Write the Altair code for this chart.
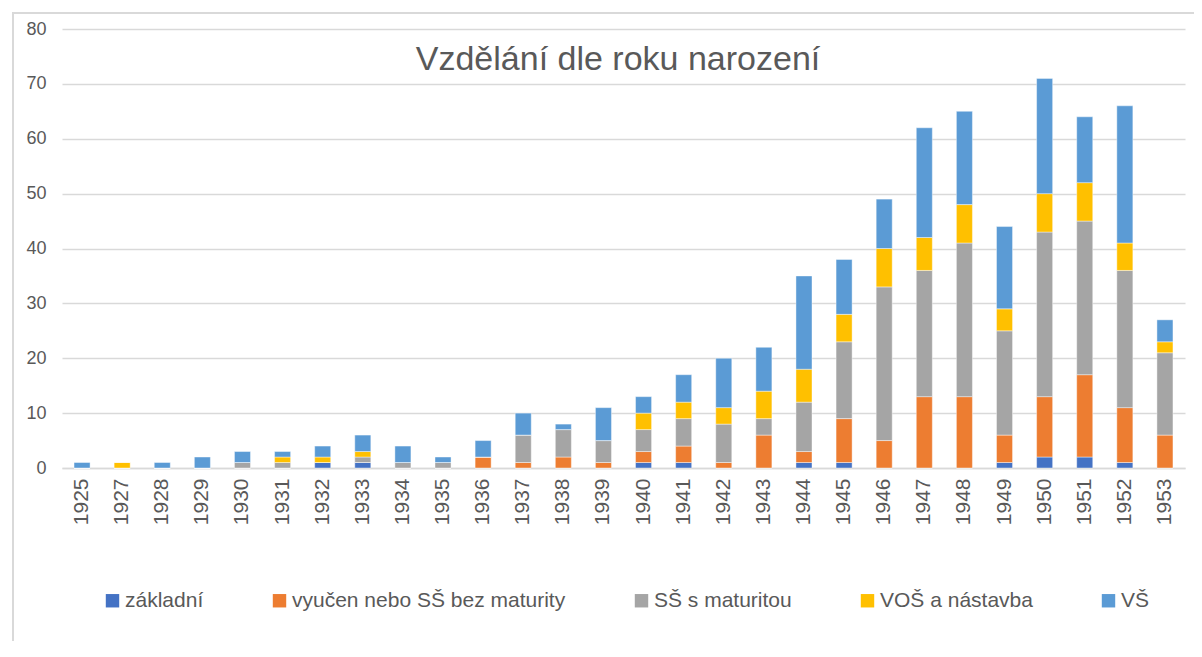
import altair as alt
import pandas as pd

years = ["1925", "1927", "1928", "1929", "1930", "1931", "1932", "1933", "1934", "1935",
         "1936", "1937", "1938", "1939", "1940", "1941", "1942", "1943", "1944", "1945",
         "1946", "1947", "1948", "1949", "1950", "1951", "1952", "1953"]

zakladni = [0, 0, 0, 0, 0, 0, 1, 1, 0, 0, 0, 0, 0, 0, 1, 1, 0, 0, 1, 1, 0, 0, 0, 1, 2, 2, 1, 0]
vyucen   = [0, 0, 0, 0, 0, 0, 0, 0, 0, 0, 2, 1, 2, 1, 2, 3, 1, 6, 2, 8, 5, 13, 13, 5, 11, 15, 10, 6]
ss_mat   = [0, 0, 0, 0, 1, 1, 0, 1, 1, 1, 0, 5, 5, 4, 4, 5, 7, 3, 9, 14, 28, 23, 28, 19, 30, 28, 25, 15]
vos      = [0, 1, 0, 0, 0, 1, 1, 1, 0, 0, 0, 0, 0, 0, 3, 3, 3, 5, 6, 5, 7, 6, 7, 4, 7, 7, 5, 2]
vs       = [1, 0, 1, 2, 2, 1, 2, 3, 3, 1, 3, 4, 1, 6, 3, 5, 9, 8, 17, 10, 9, 20, 17, 15, 21, 12, 25, 4]

series_names = ["základní", "vyučen nebo SŠ bez maturity", "SŠ s maturitou", "VOŠ a nástavba", "VŠ"]
series_values = [zakladni, vyucen, ss_mat, vos, vs]
colors = ["#4472C4", "#ED7D31", "#A5A5A5", "#FFC000", "#5B9BD5"]
y_ticks = [0, 10, 20, 30, 40, 50, 60, 70, 80]
title_text = "Vzdělání dle roku narození"

rows = []
for i, (name, vals) in enumerate(zip(series_names, series_values)):
    for y, v in zip(years, vals):
        rows.append({"rok": y, "vzdelani": name, "pocet": v, "poradi": i})
df = pd.DataFrame(rows)

FONT = "Liberation Sans, Arial"
TXT = "#595959"

bars = alt.Chart(df).mark_bar(stroke="white", strokeWidth=0.6, strokeOpacity=0.7).encode(
    x=alt.X("rok:N", sort=years, title=None,
            scale=alt.Scale(paddingInner=0.6, paddingOuter=0.3),
            axis=alt.Axis(labelAngle=-90, ticks=False, domain=True, domainColor="#D9D9D9",
                          domainWidth=1.5, labelFontSize=21, labelColor=TXT, labelFont=FONT,
                          labelPadding=10)),
    y=alt.Y("pocet:Q", stack="zero", title=None,
            scale=alt.Scale(domain=[0, 80], nice=False),
            axis=alt.Axis(values=y_ticks, ticks=False, domain=False, gridColor="#D9D9D9",
                          gridWidth=1.5, labelFontSize=18, labelColor=TXT, labelFont=FONT,
                          labelPadding=16)),
    color=alt.Color("vzdelani:N", sort=series_names,
                    scale=alt.Scale(domain=series_names, range=colors),
                    legend=alt.Legend(title=None, orient="none", direction="horizontal",
                                      columns=5, legendX=40, legendY=561,
                                      symbolType="square", symbolSize=180,
                                      symbolStrokeWidth=0, labelFontSize=21,
                                      labelFont=FONT, labelColor=TXT, columnPadding=65,
                                      labelOffset=2, labelLimit=400, padding=0)),
    order=alt.Order("poradi:Q", sort="ascending"),
)

frame = alt.Chart(df).mark_rect(fill=None, stroke="#D9D9D9", strokeWidth=1.5).encode(
    x=alt.value(-49), x2=alt.value(1160), y=alt.value(-16), y2=alt.value(650)
)

title = alt.Chart(pd.DataFrame({"t": [title_text]})).mark_text(
    font=FONT, fontSize=34, color=TXT, align="center", baseline="alphabetic"
).encode(text="t:N", x=alt.value(556), y=alt.value(41))

chart = alt.layer(frame, bars, title).properties(
    width=1123, height=439,
    padding={"left": 54, "top": 21, "right": 9, "bottom": 173},
    autosize=alt.AutoSizeParams(type="none"),
).configure_view(stroke=None)

chart.save("out.html", embed_options={"renderer": "svg", "actions": False})
